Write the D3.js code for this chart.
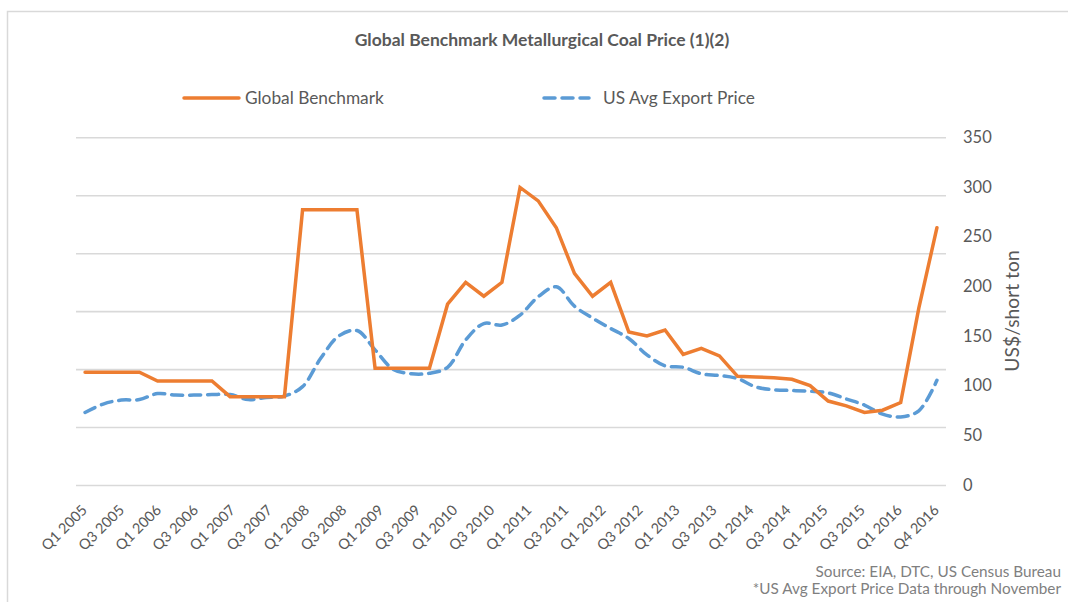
<!DOCTYPE html>
<html>
<head>
<meta charset="utf-8">
<script src="https://cdn.jsdelivr.net/npm/d3@7"></script>
<style>
  html, body { margin: 0; padding: 0; background: #ffffff; }
  svg { display: block; }
  text { font-family: Lato, "Open Sans", sans-serif; }
</style>
</head>
<body>
<svg id="chart" width="1068" height="602"></svg>
<script>
// ---------- DATA ----------
const categories = [
  "Q1 2005","Q2 2005","Q3 2005","Q4 2005","Q1 2006","Q2 2006","Q3 2006","Q4 2006",
  "Q1 2007","Q2 2007","Q3 2007","Q4 2007","Q1 2008","Q2 2008","Q3 2008","Q4 2008",
  "Q1 2009","Q2 2009","Q3 2009","Q4 2009","Q1 2010","Q2 2010","Q3 2010","Q4 2010",
  "Q1 2011","Q2 2011","Q3 2011","Q4 2011","Q1 2012","Q2 2012","Q3 2012","Q4 2012",
  "Q1 2013","Q2 2013","Q3 2013","Q4 2013","Q1 2014","Q2 2014","Q3 2014","Q4 2014",
  "Q1 2015","Q2 2015","Q3 2015","Q4 2015","Q1 2016","Q2 2016","Q3 2016","Q4 2016"
];
const globalBenchmark = [
  113.5, 113.5, 113.5, 113.5, 104.7, 104.7, 104.7, 104.7,
  88.9, 88.9, 88.9, 88.9, 277, 277, 277, 277,
  117.5, 117.5, 117.5, 117.5, 182, 204, 190, 204,
  299.5, 286, 259, 213, 190, 204, 154, 150,
  156, 131.5, 137.5, 130, 109.4, 108.8, 108, 106.4,
  100, 84.5, 79.7, 73, 75.3, 83, 178, 259
];
const usAvgExportPrice = [
  73, 81.5, 85.5, 86, 92, 90.5, 90.5, 91,
  91, 86, 88, 89.5, 99, 127.5, 150, 155.5,
  136, 116.5, 112, 112.5, 118.5, 146, 162.5, 161,
  171, 189.5, 199.5, 180, 168, 157.5, 147.5, 131,
  120, 118.5, 112, 110.2, 107.1, 98.7, 95.9, 95.1,
  94.4, 92.7, 86.6, 80.5, 71.3, 68.5, 74.7, 105.4
];
const tickLabels = [
  "Q1 2005","Q3 2005","Q1 2006","Q3 2006","Q1 2007","Q3 2007","Q1 2008","Q3 2008",
  "Q1 2009","Q3 2009","Q1 2010","Q3 2010","Q1 2011","Q3 2011","Q1 2012","Q3 2012",
  "Q1 2013","Q3 2013","Q1 2014","Q3 2014","Q1 2015","Q3 2015","Q1 2016","Q4 2016"
];
const yTicks = [0, 50, 100, 150, 200, 250, 300, 350];
const gridTicks = [0, 50, 100, 150, 200, 250, 300]; // hidden primary axis gridlines
const seriesNames = ["Global Benchmark", "US Avg Export Price"];
const titleText = "Global Benchmark Metallurgical Coal Price (1)(2)";
const yAxisTitle = "US$/short ton";
const notes = ["Source: EIA, DTC, US Census Bureau", "*US Avg Export Price Data through November"];

// ---------- LAYOUT ----------
const svg = d3.select("#chart");
const W = 1068, H = 602;
const plot = { left: 76, right: 946, top: 137.3, bottom: 485 };
const ORANGE = "#ED7D31", BLUE = "#5B9BD5", GRID = "#d9d9d9", TXT = "#595959";

svg.append("rect").attr("width", W).attr("height", H).attr("fill", "#fff");
svg.append("rect").attr("x", 7.5).attr("y", 11.5).attr("width", W + 20).attr("height", H + 20)
  .attr("fill", "none").attr("stroke", GRID).attr("stroke-width", 1.5);

const x = d3.scaleBand().domain(categories).range([plot.left, plot.right]).padding(0);
const xc = c => x(c) + x.bandwidth() / 2;
const y = d3.scaleLinear().domain([0, 350]).range([plot.bottom, plot.top]);
const yGrid = d3.scaleLinear().domain([0, 300]).range([plot.bottom, plot.top]);
const xt = d3.scalePoint().domain(tickLabels).range([xc(categories[0]), xc(categories[categories.length - 1])]);

// gridlines
const gridG = svg.append("g").attr("transform", `translate(${plot.left},0)`)
  .call(d3.axisLeft(yGrid).tickValues(gridTicks).tickSize(-(plot.right - plot.left)).tickFormat(""));
gridG.select(".domain").remove();
gridG.selectAll(".tick line").attr("stroke", GRID).attr("stroke-width", 1.6);

// right axis
const yAx = svg.append("g").attr("transform", `translate(${plot.right},0)`)
  .call(d3.axisRight(y).tickValues(yTicks).tickSize(0).tickPadding(17));
yAx.select(".domain").remove();
yAx.selectAll("text").attr("fill", TXT).style("font-size", "16.5px").style("font-family", "Lato");

// x axis labels
const xAx = svg.append("g").attr("transform", `translate(0,${plot.bottom})`)
  .call(d3.axisBottom(xt).tickSize(0).tickPadding(0));
xAx.select(".domain").remove();
xAx.selectAll("text")
  .attr("fill", TXT).style("font-size", "14.5px").style("font-family", "Lato")
  .attr("text-anchor", "end").attr("dy", 0).attr("y", 0)
  .attr("transform", "translate(2.5,26) rotate(-45)");

// lines
svg.append("path").datum(usAvgExportPrice)
  .attr("d", d3.line().x((d, i) => xc(categories[i])).y(d => y(d)).curve(d3.curveCatmullRom.alpha(0.5)))
  .attr("fill", "none").attr("stroke", BLUE).attr("stroke-width", 3.5)
  .attr("stroke-dasharray", "11,7").attr("stroke-linecap", "round");
svg.append("path").datum(globalBenchmark)
  .attr("d", d3.line().x((d, i) => xc(categories[i])).y(d => y(d)))
  .attr("fill", "none").attr("stroke", ORANGE).attr("stroke-width", 3.5)
  .attr("stroke-linejoin", "miter").attr("stroke-linecap", "round");

// title
svg.append("text").attr("x", 542).attr("y", 46).attr("text-anchor", "middle")
  .attr("fill", TXT).style("font-size", "17.5px").style("font-weight", "bold").text(titleText);

// legend
const leg = svg.append("g");
leg.append("line").attr("x1", 184).attr("x2", 239).attr("y1", 98).attr("y2", 98)
  .attr("stroke", ORANGE).attr("stroke-width", 3.5).attr("stroke-linecap", "round");
leg.append("text").attr("x", 245).attr("y", 98).attr("dy", "0.35em")
  .attr("fill", TXT).style("font-size", "17.3px").text(seriesNames[0]);
leg.append("line").attr("x1", 544).attr("x2", 589).attr("y1", 98).attr("y2", 98)
  .attr("stroke", BLUE).attr("stroke-width", 3.5).attr("stroke-dasharray", "11,7").attr("stroke-linecap", "round");
leg.append("text").attr("x", 603).attr("y", 98).attr("dy", "0.35em")
  .attr("fill", TXT).style("font-size", "17.3px").text(seriesNames[1]);

// axis title
svg.append("text").attr("transform", "translate(1012,311) rotate(-90)").attr("text-anchor", "middle")
  .attr("dy", "0.35em").attr("fill", TXT).style("font-size", "19.3px").text(yAxisTitle);

// notes
svg.selectAll(".note").data(notes).enter().append("text").attr("class", "note")
  .attr("x", 1061).attr("y", (d, i) => 577 + i * 17).attr("text-anchor", "end")
  .attr("fill", "#7f7f7f").style("font-size", "15.3px").text(d => d);
</script>
</body>
</html>
